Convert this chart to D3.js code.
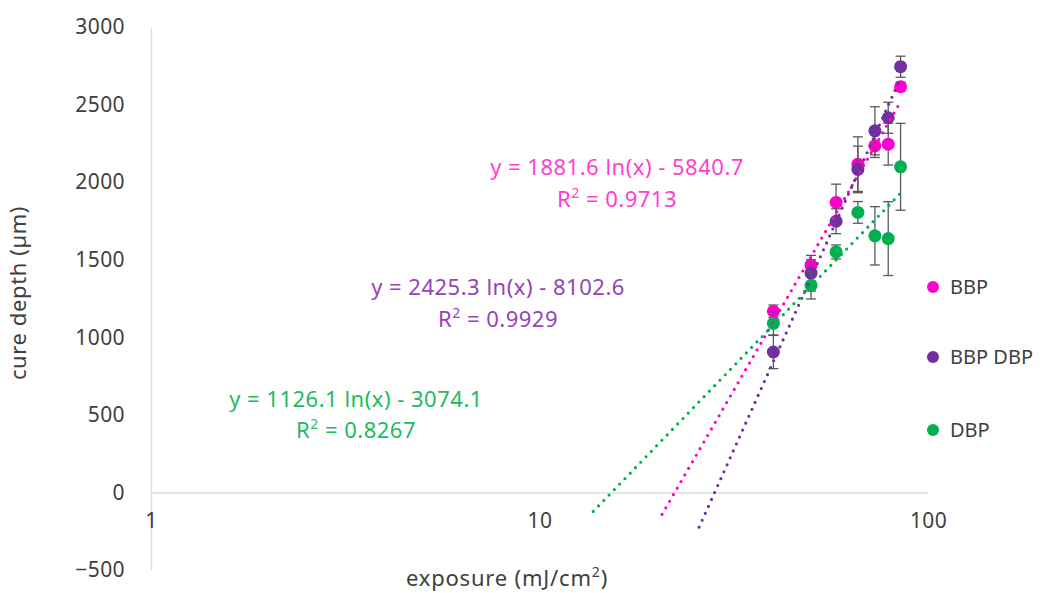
<!DOCTYPE html>
<html>
<head>
<meta charset="utf-8">
<script src="https://cdn.jsdelivr.net/npm/d3@7"></script>
<style>
  body { margin: 0; background: #fff; }
  text { font-family: "Noto Sans", "Open Sans", sans-serif; }
</style>
</head>
<body>
<div id="chart"></div>
<script>
// exposure values (mJ/cm2)
var exposure = [40, 50, 58, 66, 73, 79, 85];

// cure depth (um) per resin and the error bar half-widths
var bbp      = [1168, 1465, 1869, 2116, 2234, 2245, 2615];
var bbpErr   = [40, 35, 118, 176, 75, 135, 30];
var bbpdbp    = [905, 1413, 1748, 2082, 2331, 2415, 2744];
var bbpdbpErr = [107, 115, 80, 150, 155, 100, 68];
var dbp      = [1090, 1335, 1550, 1805, 1654, 1636, 2099];
var dbpErr   = [75, 88, 45, 70, 188, 238, 280];

var seriesNames = ["BBP", "BBP DBP", "DBP"];
var seriesColors = ["#ff00cc", "#7030a0", "#00b050"];
var labelColors = ["#ff3fd2", "#9444b4", "#1dbb5f"];

// logarithmic trend lines: y = a ln(x) + b
var trendA = [1881.6, 2425.3, 1126.1];
var trendB = [-5840.7, -8102.6, -3074.1];
var trendR2 = ["0.9713", "0.9929", "0.8267"];
var trendStart = [20.67, 25.75, 13.75];
var trendEnd = [85, 85, 85];

var xTicks = [1, 10, 100];
var yTicks = [-500, 0, 500, 1000, 1500, 2000, 2500, 3000];

var width = 1042, height = 593;

var x = d3.scaleLog().domain([1, 100]).range([151, 928]);
var y = d3.scaleLinear().domain([-500, 3000]).range([570, 27]);

var svg = d3.select("#chart").append("svg")
  .attr("width", width)
  .attr("height", height);

// axes
var yAxis = svg.append("g")
  .attr("transform", "translate(" + x(1) + ",0)")
  .call(d3.axisLeft(y).tickValues(yTicks).tickFormat(d3.format("d")).tickSize(0).tickPadding(26).tickSizeOuter(0));
var xAxis = svg.append("g")
  .attr("transform", "translate(0," + y(0) + ")")
  .call(d3.axisBottom(x).tickValues(xTicks).tickFormat(d3.format("d")).tickSize(0).tickPadding(21).tickSizeOuter(0));

[yAxis, xAxis].forEach(function(ax) {
  ax.select(".domain").attr("stroke", "#d9d9d9").attr("stroke-width", 1.3);
  ax.selectAll("text")
    .attr("font-size", 21)
    .attr("letter-spacing", 0.4)
    .attr("fill", "#404040");
});

svg.append("text")
  .attr("transform", "translate(26,293) rotate(-90)")
  .attr("text-anchor", "middle")
  .attr("font-size", 22)
  .attr("letter-spacing", 0.6)
  .attr("fill", "#404040")
  .text("cure depth (µm)");

var xt = svg.append("text")
  .attr("x", 507)
  .attr("y", 586)
  .attr("text-anchor", "middle")
  .attr("font-size", 22)
  .attr("letter-spacing", 0.8)
  .attr("fill", "#404040");
xt.append("tspan").text("exposure (mJ/cm");
xt.append("tspan").attr("font-size", 14).attr("dy", -9).text("2");
xt.append("tspan").attr("dy", 9).text(")");

// series
var allVals = [bbp, bbpdbp, dbp];
var allErr = [bbpErr, bbpdbpErr, dbpErr];

for (var s = 0; s < 3; s++) {
  var pts = exposure.map(function(e, i) {
    return {x: e, y: allVals[s][i], err: allErr[s][i]};
  });
  var g = svg.append("g");

  var bars = g.selectAll("g.err")
    .data(pts)
    .enter()
    .append("g")
    .attr("stroke", "#595959")
    .attr("stroke-width", 1.3);
  bars.append("line")
    .attr("x1", function(d) { return x(d.x); })
    .attr("x2", function(d) { return x(d.x); })
    .attr("y1", function(d) { return y(d.y - d.err); })
    .attr("y2", function(d) { return y(d.y + d.err); });
  bars.append("line")
    .attr("x1", function(d) { return x(d.x) - 5; })
    .attr("x2", function(d) { return x(d.x) + 5; })
    .attr("y1", function(d) { return y(d.y + d.err); })
    .attr("y2", function(d) { return y(d.y + d.err); });
  bars.append("line")
    .attr("x1", function(d) { return x(d.x) - 5; })
    .attr("x2", function(d) { return x(d.x) + 5; })
    .attr("y1", function(d) { return y(d.y - d.err); })
    .attr("y2", function(d) { return y(d.y - d.err); });

  g.selectAll("circle")
    .data(pts)
    .enter()
    .append("circle")
    .attr("cx", function(d) { return x(d.x); })
    .attr("cy", function(d) { return y(d.y); })
    .attr("r", 6.5)
    .attr("fill", seriesColors[s]);
}

// trend lines
var line = d3.line()
  .x(function(d) { return x(d.x); })
  .y(function(d) { return y(d.y); });

for (var t = 0; t < 3; t++) {
  var tp = [trendStart[t], trendEnd[t]].map(function(v) {
    return {x: v, y: trendA[t] * Math.log(v) + trendB[t]};
  });
  svg.append("path")
    .datum(tp)
    .attr("d", line)
    .attr("fill", "none")
    .attr("stroke", seriesColors[t])
    .attr("stroke-width", 3.2)
    .attr("stroke-linecap", "round")
    .attr("stroke-dasharray", "0 7.6");
}

// trend labels
var labelPos = [[617, 175, 207], [498, 295, 327], [356, 407, 438]];
for (var k = 0; k < 3; k++) {
  svg.append("text")
    .attr("x", labelPos[k][0])
    .attr("y", labelPos[k][1])
    .attr("text-anchor", "middle")
    .attr("font-size", 22)
    .attr("letter-spacing", 0.5)
    .attr("fill", labelColors[k])
    .text("y = " + trendA[k] + " ln(x) - " + (-trendB[k]));
  var r = svg.append("text")
    .attr("x", labelPos[k][0])
    .attr("y", labelPos[k][2])
    .attr("text-anchor", "middle")
    .attr("font-size", 22)
    .attr("letter-spacing", 0.5)
    .attr("fill", labelColors[k]);
  r.append("tspan").text("R");
  r.append("tspan").attr("font-size", 14).attr("dy", -9).text("2");
  r.append("tspan").attr("dy", 9).text(" = " + trendR2[k]);
}

// legend
var legend = svg.selectAll("g.legend")
  .data(seriesNames)
  .enter()
  .append("g")
  .attr("transform", function(d, i) { return "translate(933," + [287, 357, 430][i] + ")"; });
legend.append("circle")
  .attr("r", 6)
  .attr("fill", function(d, i) { return seriesColors[i]; });
legend.append("text")
  .attr("x", 17)
  .attr("dy", "0.35em")
  .attr("font-size", 20)
  .attr("fill", "#404040")
  .text(function(d) { return d; });
</script>
</body>
</html>
